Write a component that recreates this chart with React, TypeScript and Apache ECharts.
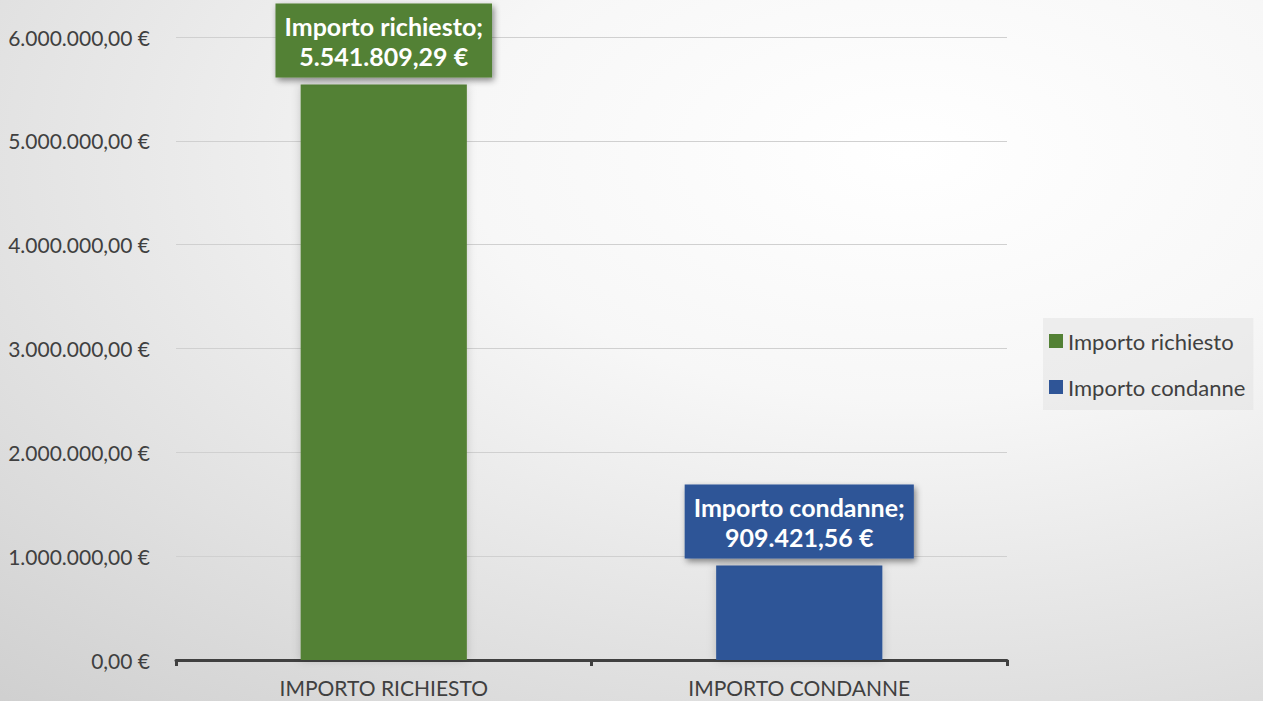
import React, { useEffect, useRef } from "react";
import * as echarts from "echarts";

const categories = ["IMPORTO RICHIESTO", "IMPORTO CONDANNE"];
const seriesNames = ["Importo richiesto", "Importo condanne"];
const richiestoValues = [5541809.29, null];
const condanneValues = [null, 909421.56];
const seriesColors = ["#538135", "#2F5597"];
const yTicks = { min: 0, max: 6000000, interval: 1000000 };

function fmtEuro(v: number): string {
  const fixed = Number(v).toFixed(2);
  const [i, d] = fixed.split(".");
  return i.replace(/\B(?=(\d{3})+(?!\d))/g, ".") + "," + d + " €";
}

const FONT = "Lato, 'Open Sans', sans-serif";

export default function App() {
  const ref = useRef<HTMLDivElement>(null);
  useEffect(() => {
    document.body.style.margin = "0";
    const chart = echarts.init(ref.current!, null, { renderer: "svg" });
    const mkLabel = (color: string) => ({
      show: true,
      position: "top",
      distance: 7,
      formatter: (p: any) => p.seriesName + ";\n" + fmtEuro(p.value),
      color: "#ffffff",
      fontFamily: FONT,
      fontWeight: "bold",
      fontSize: 25,
      lineHeight: 30,
      backgroundColor: color,
      padding: [7, 9, 7, 9],
      shadowColor: "rgba(0,0,0,0.45)",
      shadowBlur: 6,
      shadowOffsetX: 2,
      shadowOffsetY: 3,
    });
    chart.setOption({
      animation: false,
      backgroundColor: {
        type: "radial",
        x: 0.72,
        y: 0.22,
        r: 1.4,
        colorStops: [
          { offset: 0, color: "#ffffff" },
          { offset: 0.25, color: "#f7f7f7" },
          { offset: 1, color: "#bdbdbd" },
        ],
      },
      textStyle: { fontFamily: FONT },
      grid: { left: 176, right: 256, top: 37, bottom: 41, containLabel: false },
      legend: {
        orient: "vertical",
        left: 1043,
        top: 318,
        itemWidth: 14,
        itemHeight: 14,
        itemGap: 24,
        padding: [12, 8, 12, 6],
        backgroundColor: "rgba(225,225,225,0.5)",
        icon: "rect",
        textStyle: { fontSize: 22, color: "#404040", fontFamily: FONT },
        data: seriesNames,
      },
      xAxis: {
        type: "category",
        data: categories,
        axisLine: { lineStyle: { color: "#404040", width: 3 } },
        axisTick: { show: true, length: 6, lineStyle: { color: "#404040", width: 3 } },
        axisLabel: { fontSize: 21, color: "#404040", margin: 17, fontFamily: FONT },
      },
      yAxis: {
        type: "value",
        min: yTicks.min,
        max: yTicks.max,
        interval: yTicks.interval,
        axisLine: { show: false },
        axisTick: { show: false },
        splitLine: { lineStyle: { color: "#d0d0d0", width: 1 } },
        axisLabel: {
          fontSize: 21,
          color: "#404040",
          margin: 26,
          fontFamily: FONT,
          formatter: (v: number) => fmtEuro(v),
        },
      },
      series: [
        {
          name: seriesNames[0],
          type: "bar",
          stack: "s",
          barWidth: "40%",
          data: richiestoValues,
          itemStyle: { color: seriesColors[0], shadowColor: "rgba(0,0,0,0.18)", shadowBlur: 10 },
          label: mkLabel(seriesColors[0]),
        },
        {
          name: seriesNames[1],
          type: "bar",
          stack: "s",
          barWidth: "40%",
          data: condanneValues,
          itemStyle: { color: seriesColors[1], shadowColor: "rgba(0,0,0,0.18)", shadowBlur: 10 },
          label: mkLabel(seriesColors[1]),
        },
      ],
    });
    return () => chart.dispose();
  }, []);
  return <div ref={ref} style={{ width: 1263, height: 701 }} />;
}
